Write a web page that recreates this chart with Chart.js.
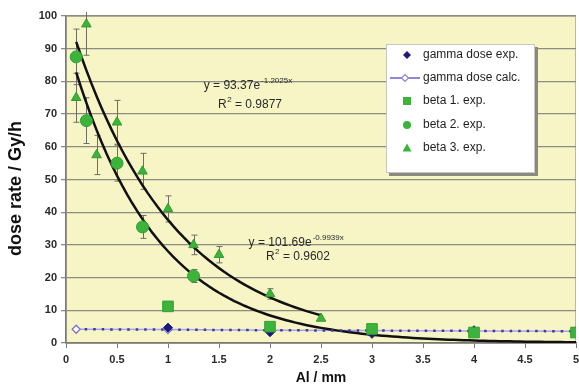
<!DOCTYPE html>
<html>
<head>
<meta charset="utf-8">
<script src="https://cdn.jsdelivr.net/npm/chart.js@4/dist/chart.umd.min.js"></script>
<style>
  html, body { margin: 0; padding: 0; background: #ffffff; }
  #wrap { width: 579px; height: 387px; }
</style>
</head>
<body>
<div id="wrap"><canvas id="c" width="579" height="387"></canvas></div>
<script>
// Al absorber thickness (mm) and measured dose rates (Gy/h)
var gammaExpX  = [1, 2, 3, 4, 5];
var gammaExpY  = [4.7, 3.3, 2.8, 3.9, 3.5];

var gammaCalcX = [0.1, 1, 2, 3, 4, 5];
var gammaCalcY = [4.2, 4.1, 3.9, 3.8, 3.7, 3.6];

var beta1X = [1, 2, 3, 4, 5];
var beta1Y = [11.2, 5.0, 4.3, 3.2, 3.2];

var beta2X   = [0.1, 0.2, 0.5, 0.75, 1.25];
var beta2Y   = [87.5, 68, 55, 35.5, 20.5];
var beta2Err = [8.5, 7, 5.5, 3.5, 2];

var beta3X   = [0.1, 0.2, 0.3, 0.5, 0.75, 1, 1.25, 1.5, 2, 2.5];
var beta3Y   = [75, 97.5, 57.5, 67.5, 52.5, 41, 30, 27, 15, 7.5];
var beta3Err = [7.5, 9.5, 6, 6.7, 5.5, 4, 3, 2.5, 1.6, 0];

var xTicks = [0, 0.5, 1, 1.5, 2, 2.5, 3, 3.5, 4, 4.5, 5];
var yTicks = [0, 10, 20, 30, 40, 50, 60, 70, 80, 90, 100];

// exponential trend lines y = a * e^(b x), coefficients as printed on the plot
var fitLowA = 93.37,  fitLowB = -1.2025, fitLowR2 = '0.9877', fitLowEnd = 5;
var fitUpA  = 101.69, fitUpB  = -0.9939, fitUpR2  = '0.9602', fitUpEnd  = 2.5;

function trend(a, b, x0, x1) {
    var pts = [];
    for (var x = x0; x <= x1 + 1e-9; x += 0.05) {
        pts.push({ x: x, y: a * Math.exp(b * x) });
    }
    return pts;
}

function zip(xs, ys) {
    return xs.map(function (x, i) { return { x: x, y: ys[i] }; });
}

var GREEN = '#3cb43c';
var NAVY  = '#1c1a78';
var FONT  = '"Liberation Sans", Arial, sans-serif';

// pale yellow plot area with a thin frame, rotated y title
var plotBg = {
    id: 'plotBg',
    beforeDraw: function (chart) {
        var a = chart.chartArea, ctx = chart.ctx;
        ctx.save();
        ctx.fillStyle = '#ffffff';
        ctx.fillRect(0, 0, chart.width, chart.height);
        ctx.fillStyle = '#f7f5c6';
        ctx.fillRect(a.left, a.top, a.right - a.left, a.bottom - a.top);
        ctx.strokeStyle = '#b8b8a8';
        ctx.lineWidth = 1;
        ctx.strokeRect(a.left + 0.5, a.top + 0.5, a.right - a.left - 1, a.bottom - a.top);

        ctx.translate(16, (a.top + a.bottom) / 2 + 9);
        ctx.rotate(-Math.PI / 2);
        ctx.fillStyle = '#111111';
        ctx.font = 'bold 18px ' + FONT;
        ctx.textAlign = 'center';
        ctx.textBaseline = 'middle';
        ctx.fillText('dose rate / Gy/h', 0, 0);
        ctx.restore();
    }
};

// error bars, plus the pale solid line under the dotted gamma calc curve
var errorBars = {
    id: 'errorBars',
    beforeDatasetsDraw: function (chart) {
        var xs = chart.scales.x, ys = chart.scales.y, ctx = chart.ctx, a = chart.chartArea;
        ctx.save();

        var calc = chart.getDatasetMeta(1).data;
        ctx.strokeStyle = '#aaa2e6';
        ctx.lineWidth = 1.5;
        ctx.beginPath();
        calc.forEach(function (p, i) { if (i) ctx.lineTo(p.x, p.y); else ctx.moveTo(p.x, p.y); });
        ctx.stroke();

        ctx.beginPath();
        ctx.rect(a.left, a.top - 4, a.right - a.left, a.bottom - a.top + 4);
        ctx.clip();
        ctx.strokeStyle = '#6e6e64';
        ctx.lineWidth = 1;
        function bars(X, Y, E) {
            for (var i = 0; i < X.length; i++) {
                if (!E[i]) continue;
                var px = Math.round(xs.getPixelForValue(X[i])) + 0.5;
                var top = ys.getPixelForValue(Y[i] + E[i]);
                var bot = ys.getPixelForValue(Y[i] - E[i]);
                ctx.beginPath();
                ctx.moveTo(px, top); ctx.lineTo(px, bot);
                ctx.moveTo(px - 3, top); ctx.lineTo(px + 3, top);
                ctx.moveTo(px - 3, bot); ctx.lineTo(px + 3, bot);
                ctx.stroke();
            }
        }
        bars(beta2X, beta2Y, beta2Err);
        bars(beta3X, beta3Y, beta3Err);
        ctx.restore();
    }
};

// fit equations next to the curves
var fitLabels = {
    id: 'fitLabels',
    afterDatasetsDraw: function (chart) {
        var xs = chart.scales.x, ys = chart.scales.y, ctx = chart.ctx;
        ctx.save();
        ctx.fillStyle = '#2a2a2a';
        ctx.textBaseline = 'middle';
        function eq(a, b, x, y) {
            var px = xs.getPixelForValue(x), py = ys.getPixelForValue(y);
            var main = 'y = ' + a + 'e';
            ctx.font = '12px ' + FONT;
            ctx.fillText(main, px, py);
            var w = ctx.measureText(main).width;
            ctx.font = '8px ' + FONT;
            ctx.fillText(b + 'x', px + w + 1, py - 5);
        }
        function r2(v, x, y) {
            var px = xs.getPixelForValue(x), py = ys.getPixelForValue(y);
            ctx.font = '12px ' + FONT;
            ctx.fillText('R', px, py);
            var w = ctx.measureText('R').width;
            ctx.font = '8px ' + FONT;
            ctx.fillText('2', px + w + 0.5, py - 5);
            ctx.font = '12px ' + FONT;
            ctx.fillText(' = ' + v, px + w + 5, py);
        }
        eq(fitLowA, fitLowB, 1.35, 78.6);
        r2(fitLowR2, 1.49, 72.8);
        eq(fitUpA, fitUpB, 1.79, 30.6);
        r2(fitUpR2, 1.96, 26.3);
        ctx.restore();
    }
};

// boxed legend inside the plot area
var boxLegend = {
    id: 'boxLegend',
    afterDraw: function (chart) {
        var a = chart.chartArea, ctx = chart.ctx;
        var L = a.right - 190, T = a.top + 28, W = 149, H = 129;
        ctx.save();
        ctx.fillStyle = '#8a8a80';
        ctx.fillRect(L + 3, T + 3, W, H);
        ctx.fillStyle = '#ffffff';
        ctx.fillRect(L, T, W, H);
        ctx.strokeStyle = '#c8c8c0';
        ctx.lineWidth = 1;
        ctx.strokeRect(L + 0.5, T + 0.5, W - 1, H - 1);

        var rows = [11, 34, 57, 81, 104];
        var names = ['gamma dose exp.', 'gamma dose calc.', 'beta 1. exp.', 'beta 2. exp.', 'beta 3. exp.'];
        var mx = L + 21;
        ctx.font = '12px ' + FONT;
        ctx.textBaseline = 'middle';
        for (var i = 0; i < names.length; i++) {
            ctx.fillStyle = '#1e1e1e';
            ctx.fillText(names[i], L + 37, T + rows[i]);
        }
        // markers
        var y0 = T + rows[0];
        ctx.fillStyle = NAVY;
        ctx.beginPath();
        ctx.moveTo(mx, y0 - 4); ctx.lineTo(mx + 4, y0); ctx.lineTo(mx, y0 + 4); ctx.lineTo(mx - 4, y0);
        ctx.closePath(); ctx.fill();

        var y1 = T + rows[1];
        ctx.strokeStyle = '#8f86d4';
        ctx.lineWidth = 2;
        ctx.beginPath(); ctx.moveTo(L + 4, y1); ctx.lineTo(L + 34, y1); ctx.stroke();
        ctx.fillStyle = '#ffffff';
        ctx.lineWidth = 1.2;
        ctx.beginPath();
        ctx.moveTo(mx - 2, y1 - 3.5); ctx.lineTo(mx + 1.5, y1); ctx.lineTo(mx - 2, y1 + 3.5); ctx.lineTo(mx - 5.5, y1);
        ctx.closePath(); ctx.fill(); ctx.stroke();

        ctx.fillStyle = GREEN;
        var y2 = T + rows[2];
        ctx.fillRect(mx - 4, y2 - 4, 8, 8);
        var y3 = T + rows[3];
        ctx.beginPath(); ctx.arc(mx, y3, 4, 0, Math.PI * 2); ctx.fill();
        var y4 = T + rows[4];
        ctx.beginPath();
        ctx.moveTo(mx, y4 - 4.5); ctx.lineTo(mx + 4.5, y4 + 3.5); ctx.lineTo(mx - 4.5, y4 + 3.5);
        ctx.closePath(); ctx.fill();
        ctx.restore();
    }
};

new Chart(document.getElementById('c'), {
    type: 'scatter',
    data: {
        datasets: [
            {
                label: 'gamma dose exp.',
                data: zip(gammaExpX, gammaExpY),
                pointStyle: 'rectRot', pointRadius: 4.5,
                backgroundColor: NAVY, borderColor: NAVY, borderWidth: 1,
                order: 2
            },
            {
                label: 'gamma dose calc.',
                data: zip(gammaCalcX, gammaCalcY),
                showLine: true,
                borderColor: '#3f36a8', borderWidth: 2.5, borderDash: [2.5, 6],
                pointStyle: 'rectRot', pointRadius: 4,
                pointBackgroundColor: '#ffffff', pointBorderColor: '#7e74cc', pointBorderWidth: 1.3,
                order: 4
            },
            {
                label: 'beta 1. exp.',
                data: zip(beta1X, beta1Y),
                pointStyle: 'rect', pointRadius: 7.5,
                backgroundColor: GREEN, borderColor: '#33a033', borderWidth: 1,
                order: 1
            },
            {
                label: 'beta 2. exp.',
                data: zip(beta2X, beta2Y),
                pointStyle: 'circle', pointRadius: 6,
                backgroundColor: GREEN, borderColor: '#33a033', borderWidth: 1,
                order: 3
            },
            {
                label: 'beta 3. exp.',
                data: zip(beta3X, beta3Y),
                pointStyle: 'triangle', pointRadius: 5.5,
                backgroundColor: GREEN, borderColor: '#2f9a2f', borderWidth: 1,
                order: 3
            },
            {
                label: 'fit low',
                data: trend(fitLowA, fitLowB, 0.1, fitLowEnd),
                showLine: true, pointRadius: 0,
                borderColor: '#111111', borderWidth: 2.5,
                order: 5
            },
            {
                label: 'fit up',
                data: trend(fitUpA, fitUpB, 0.1, fitUpEnd),
                showLine: true, pointRadius: 0,
                borderColor: '#111111', borderWidth: 2.5,
                order: 5
            }
        ]
    },
    options: {
        responsive: false,
        animation: false,
        events: [],
        layout: { autoPadding: false, padding: { left: 0, top: 16, right: 3, bottom: 0 } },
        plugins: {
            legend: { display: false },
            tooltip: { enabled: false }
        },
        scales: {
            x: {
                type: 'linear', min: 0, max: 5,
                afterBuildTicks: function (s) { s.ticks = xTicks.map(function (v) { return { value: v }; }); },
                afterFit: function (s) { s.height = 44; s.paddingLeft = 0; s.paddingRight = 0; },
                grid: { drawOnChartArea: false, tickLength: 5, color: '#7a7a70' },
                border: { color: '#7a7a70', width: 1.5 },
                ticks: {
                    color: '#2a2a2a', padding: 5, font: { family: FONT, size: 11, weight: 'bold' },
                    callback: function (v) { return String(v); }
                },
                title: { display: true, text: 'Al / mm', color: '#111111', padding: { top: 0, bottom: 0 },
                         font: { family: FONT, size: 14, weight: 'bold' } }
            },
            y: {
                min: 0, max: 100,
                afterBuildTicks: function (s) { s.ticks = yTicks.map(function (v) { return { value: v }; }); },
                afterFit: function (s) { s.width = 66; s.paddingTop = 0; s.paddingBottom = 0; },
                grid: { color: '#8c8c80', lineWidth: 1.3, tickLength: 5 },
                border: { color: '#7a7a70', width: 1.5 },
                ticks: { color: '#2a2a2a', padding: 4, font: { family: FONT, size: 11, weight: 'bold' } }
            }
        }
    },
    plugins: [plotBg, errorBars, fitLabels, boxLegend]
});
</script>
</body>
</html>
